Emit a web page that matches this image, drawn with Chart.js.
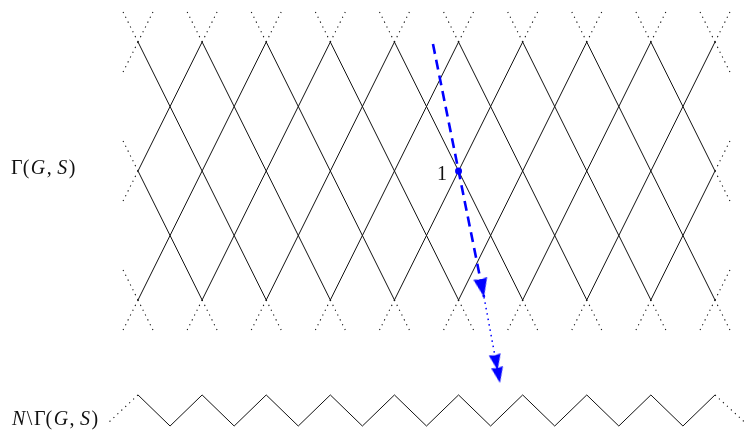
<!DOCTYPE html>
<html>
<head>
<meta charset="utf-8">
<script src="https://cdn.jsdelivr.net/npm/chart.js@4.4.0/dist/chart.umd.min.js"></script>
<style>
  html, body { margin: 0; padding: 0; background: #fff; }
  #wrap { width: 746px; height: 432px; }
</style>
</head>
<body>
<div id="wrap"><canvas id="cayley"></canvas></div>
<script>
// Cayley graph lattice, in column / row units
const latticeCols = [0, 1, 2, 3, 4, 5, 6, 7, 8, 9];
const latticeRows = [0, 1, 2];
const stubLength = 0.25;

// quotient graph N\Γ(G,S): the zigzag under the lattice
const quotientX = [0, 0.5, 1, 1.5, 2, 2.5, 3, 3.5, 4, 4.5, 5, 5.5, 6, 6.5, 7, 7.5, 8, 8.5, 9];
const quotientY = [2.736, 2.977, 2.736, 2.977, 2.736, 2.977, 2.736, 2.977, 2.736, 2.977,
                   2.736, 2.977, 2.736, 2.977, 2.736, 2.977, 2.736, 2.977, 2.736];
const quotientStubsX = [[0, -0.46], [9, 9.47]];
const quotientStubsY = [[2.736, 2.95], [2.736, 2.95]];

// identity vertex and the projection arrow
const identity = { x: 5, y: 1 };
const arrowDashedX = [4.601, 5.397];
const arrowDashedY = [0.016, 1.977];
const arrowDottedX = [5.397, 5.646];
const arrowDottedY = [1.977, 2.643];

const labelX = [-1.98, -1.965, 4.82];
const labelY = [1.023, 2.969, 1.07];
const labelParts = [
  [["Γ(", false], ["G", true], [",\u2009", false], ["S", true], [")", false]],
  [["N", true], ["\\", false], ["Γ(", false], ["G", true], [",\u2009", false], ["S", true], [")", false]],
  [["1", false]]
];
const labelAlign = ["left", "left", "right"];

const BLUE = "#0000ff";
const INK = "#111111";
const GAP = { x: NaN, y: NaN };

function latticeEdges() {
  let pts = [];
  latticeRows.slice(0, -1).forEach(function (r) {
    latticeCols.slice(0, -1).forEach(function (c) {
      pts.push({ x: c, y: r }, { x: c + 1, y: r + 1 }, GAP);
      pts.push({ x: c + 1, y: r }, { x: c, y: r + 1 }, GAP);
    });
  });
  return pts;
}

function latticeStubs() {
  let pts = [];
  let first = latticeCols[0];
  let last = latticeCols[latticeCols.length - 1];
  let top = latticeRows[0];
  let bottom = latticeRows[latticeRows.length - 1];
  let stub = function (c, r, dx, dy) {
    pts.push({ x: c, y: r }, { x: c + dx * stubLength, y: r + dy * stubLength }, GAP);
  };
  latticeCols.forEach(function (c) {
    stub(c, top, -1, -1);
    stub(c, top, 1, -1);
    stub(c, bottom, -1, 1);
    stub(c, bottom, 1, 1);
  });
  latticeRows.forEach(function (r) {
    if (r !== top) { stub(first, r, -1, -1); stub(last, r, 1, -1); }
    if (r !== bottom) { stub(first, r, -1, 1); stub(last, r, 1, 1); }
  });
  return pts;
}

function zip(xs, ys) {
  return xs.map(function (x, i) { return { x: x, y: ys[i] }; });
}

function quotientStubs() {
  let pts = [];
  quotientStubsX.forEach(function (xs, i) {
    pts = pts.concat(zip(xs, quotientStubsY[i]), [GAP]);
  });
  return pts;
}

// arrow tip drawn pointing up with its tip at the centre of the canvas
function arrowHead(len, wide, count, gap) {
  let cv = document.createElement("canvas");
  let total = len + gap * (count - 1);
  cv.width = wide;
  cv.height = Math.ceil(total * 2);
  let ctx = cv.getContext("2d");
  ctx.fillStyle = BLUE;
  for (let i = 0; i < count; i++) {
    let tip = total + i * gap;
    ctx.beginPath();
    ctx.moveTo(wide / 2, tip);
    ctx.lineTo(wide, tip + len);
    ctx.lineTo(wide / 2, tip + len * 0.94);
    ctx.lineTo(0, tip + len);
    ctx.closePath();
    ctx.fill();
  }
  return cv;
}

const mathLabels = {
  id: "mathLabels",
  afterDatasetsDraw(chart) {
    const ctx = chart.ctx;
    const sx = chart.scales.x;
    const sy = chart.scales.y;
    ctx.save();
    ctx.fillStyle = INK;
    ctx.textBaseline = "alphabetic";
    labelParts.forEach(function (parts, i) {
      let fontFor = function (italic) {
        return (italic ? "italic " : "") + "20px 'Liberation Serif', serif";
      };
      let width = 0;
      parts.forEach(function (p, k) {
        ctx.font = fontFor(p[1]);
        width += ctx.measureText(p[0]).width + (k ? 1.5 : 0);
      });
      let x = sx.getPixelForValue(labelX[i]);
      if (labelAlign[i] === "right") x -= width;
      let y = sy.getPixelForValue(labelY[i]);
      parts.forEach(function (p) {
        ctx.font = fontFor(p[1]);
        ctx.fillText(p[0], x, y);
        x += ctx.measureText(p[0]).width + 1.5;
      });
    });
    ctx.restore();
  }
};

function init() {
  const ctx = document.getElementById("cayley");
  let line = function (data, color, width, dash) {
    return {
      data: data,
      showLine: true,
      spanGaps: false,
      borderColor: color,
      borderWidth: width,
      borderDash: dash,
      pointRadius: 0,
      fill: false,
      clip: false
    };
  };
  new Chart(ctx, {
    type: "scatter",
    data: {
      datasets: [
        {
          data: [{ x: arrowDashedX[1], y: arrowDashedY[1] }],
          pointStyle: arrowHead(19, 14, 1, 0),
          rotation: 168.6,
          pointRadius: 8,
          clip: false
        },
        {
          data: [{ x: arrowDottedX[1], y: arrowDottedY[1] }],
          pointStyle: arrowHead(16, 12, 2, 13),
          rotation: 169.5,
          pointRadius: 8,
          clip: false
        },
        {
          data: [identity],
          pointRadius: 3.5,
          backgroundColor: BLUE,
          borderColor: BLUE,
          borderWidth: 0,
          clip: false
        },
        line(zip(arrowDashedX, arrowDashedY), BLUE, 2.6, [10, 6]),
        line(zip(arrowDottedX, arrowDottedY), BLUE, 1.5, [1.5, 4]),
        line(latticeEdges(), INK, 1, []),
        line(latticeStubs(), INK, 1.1, [1.2, 4.2]),
        line(zip(quotientX, quotientY), INK, 1, []),
        line(quotientStubs(), INK, 1.1, [1.2, 4.2])
      ]
    },
    options: {
      responsive: true,
      maintainAspectRatio: false,
      animation: false,
      layout: { padding: 0, autoPadding: false },
      plugins: { legend: { display: false }, tooltip: { enabled: false } },
      scales: {
        x: { type: "linear", min: -2.1526, max: 9.4837, display: false },
        y: { type: "linear", min: -0.3256, max: 3.0233, reverse: true, display: false }
      }
    },
    plugins: [mathLabels]
  });
}

window.onload = init;
</script>
</body>
</html>
